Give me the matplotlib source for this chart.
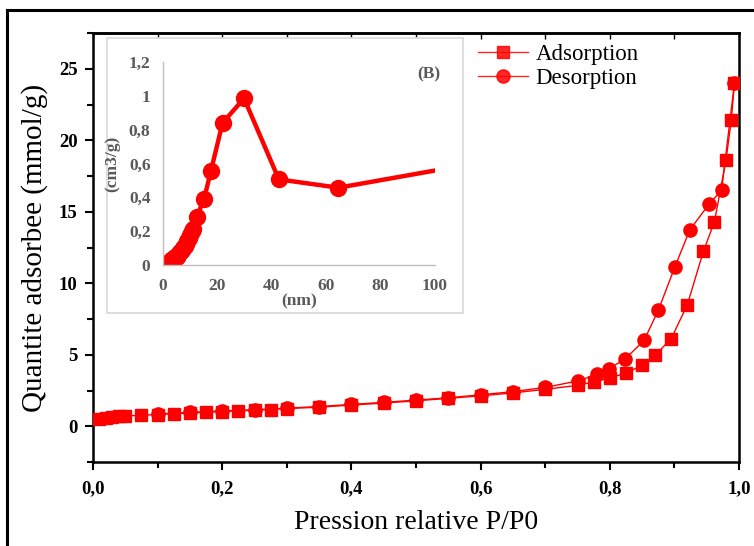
import matplotlib
matplotlib.use("Agg")
import matplotlib.pyplot as plt
from matplotlib.lines import Line2D
from matplotlib.patches import Rectangle
from matplotlib.ticker import MultipleLocator, FuncFormatter

# ---- data ----
ads_x = [0.01, 0.02, 0.03, 0.04, 0.05, 0.075, 0.1, 0.125, 0.15, 0.175, 0.2, 0.225, 0.25, 0.275,
         0.3, 0.35, 0.4, 0.45, 0.5, 0.55, 0.6, 0.65, 0.7, 0.75, 0.775, 0.8, 0.825, 0.85, 0.87,
         0.895, 0.92, 0.945, 0.962, 0.98, 0.988, 0.993]
ads_y = [0.5, 0.6, 0.65, 0.7, 0.72, 0.77, 0.82, 0.88, 0.93, 0.98, 1.03, 1.08, 1.12, 1.17,
         1.24, 1.33, 1.48, 1.62, 1.78, 1.95, 2.13, 2.33, 2.58, 2.86, 3.1, 3.37, 3.72, 4.26, 4.96,
         6.12, 8.5, 12.25, 14.3, 18.65, 21.4, 24.0]
des_x = [0.993, 0.973, 0.954, 0.924, 0.901, 0.875, 0.853, 0.824, 0.799, 0.78, 0.751, 0.7,
         0.65, 0.6, 0.55, 0.5, 0.45, 0.4, 0.35, 0.3, 0.25, 0.2, 0.15, 0.1]
des_y = [24.0, 16.5, 15.55, 13.75, 11.17, 8.1, 6.0, 4.72, 4.03, 3.63, 3.17, 2.72,
         2.42, 2.2, 1.99, 1.83, 1.67, 1.53, 1.38, 1.27, 1.15, 1.07, 0.97, 0.86]

pore_x = [1.3, 1.7, 2, 2.5, 3, 3.5, 4, 4.5, 5, 5.5, 6, 6.5, 7, 7.5, 8, 8.5, 9, 9.5, 10, 10.5, 11.1,
          12.4, 15.1, 17.6, 21.9, 29.8, 42.6, 64.5, 125]
pore_y = [0.0, 0.005, 0.01, 0.02, 0.03, 0.035, 0.04, 0.045, 0.05, 0.06, 0.07, 0.08, 0.09, 0.1, 0.11,
          0.125, 0.14, 0.16, 0.18, 0.2, 0.21, 0.285, 0.39, 0.555, 0.84, 0.985, 0.506, 0.457, 0.63]

xticks_main = [0.0, 0.2, 0.4, 0.6, 0.8, 1.0]
yticks_main = [0, 5, 10, 15, 20, 25]
xticks_in = [0, 20, 40, 60, 80, 100]
yticks_in = [0, 0.2, 0.4, 0.6, 0.8, 1.0, 1.2]

W, H = 754, 546
fig = plt.figure(figsize=(W / 100, H / 100), dpi=100)

def fx(px):
    return px / W

def fy(py):
    return 1 - py / H

serif = "Liberation Serif"
red = "#ff0000"

# outer frame
fig.add_artist(Line2D([fx(7), fx(7)], [fy(10), -0.01], transform=fig.transFigure, color="black", lw=2.2))
fig.add_artist(Line2D([fx(7), 1.01], [fy(10), fy(10)], transform=fig.transFigure, color="black", lw=2.2))

# main axes
ax = fig.add_axes([fx(93), fy(462), fx(739) - fx(93), fy(33) - fy(462)])
la, = ax.plot(ads_x, ads_y, color=red, lw=1, marker="s", ms=8, zorder=3)
ld, = ax.plot(des_x, des_y, color=red, lw=1, marker="o", ms=9.5, zorder=4)
ax.set_xlim(0, 1.0)
ax.set_ylim(-2.5, 27.5)
ax.set_xticks(xticks_main)
ax.set_yticks(yticks_main)
ax.xaxis.set_minor_locator(MultipleLocator(0.1))
ax.yaxis.set_minor_locator(MultipleLocator(2.5))
ax.xaxis.set_major_formatter(FuncFormatter(lambda v, p: f"{v:.1f}".replace(".", ",")))
ax.tick_params(which="major", direction="out", length=6, width=1.5, top=False, right=False)
ax.tick_params(which="minor", direction="out", length=4, width=1.5, top=False, right=False)
for lab in ax.get_xticklabels() + ax.get_yticklabels():
    lab.set_fontfamily(serif)
    lab.set_fontweight("bold")
    lab.set_fontsize(13.5)
ax.tick_params(axis="x", pad=7)
ax.tick_params(axis="y", pad=5)
for s in ax.spines.values():
    s.set_linewidth(1.8)
ax.set_xlabel("Pression relative P/P0", fontfamily=serif, fontsize=20, labelpad=9)
ax.set_ylabel("Quantite adsorbee (mmol/g)", fontfamily=serif, fontsize=21, labelpad=8)

# top ticks inward
axt = ax.secondary_xaxis("top")
axt.set_xticks(xticks_main)
axt.xaxis.set_minor_locator(MultipleLocator(0.1))
axt.tick_params(which="both", direction="in", length=4, width=1, labeltop=False)
axt.spines["top"].set_linewidth(1.8)

# legend (figure level, above inset)
h_a = Line2D([], [], color=red, lw=1, marker="s", ms=8, alpha=0.85)
h_d = Line2D([], [], color=red, lw=1, marker="o", ms=9.5, alpha=0.85)
leg = fig.legend([h_a, h_d], ["Adsorption", "Desorption"], loc="upper left",
                 bbox_to_anchor=(fx(478), fy(44)), bbox_transform=fig.transFigure,
                 frameon=False, prop={"family": serif, "size": 16.5},
                 handlelength=2.2, handletextpad=0.3, labelspacing=0.13, borderpad=0,
                 borderaxespad=0)
leg.set_zorder(8)

# inset background
fig.add_artist(Rectangle((fx(107), fy(313)), fx(463) - fx(107), fy(38) - fy(313),
                         transform=fig.transFigure, facecolor="white", edgecolor="#d9d9d9",
                         lw=1.2, zorder=5))

gray = "#595959"
ai = fig.add_axes([fx(163), fy(265), fx(435) - fx(163), fy(62) - fy(265)], zorder=6)
ai.patch.set_alpha(0)
ai.plot(pore_x, pore_y, color=red, lw=3.2, marker="o", ms=11.5, clip_on=True)
ai.set_xlim(0, 100)
ai.set_ylim(0, 1.2)
ai.set_xticks(xticks_in)
ai.set_yticks(yticks_in)
ai.yaxis.set_major_formatter(FuncFormatter(lambda v, p: ("%g" % round(v, 1)).replace(".", ",")))
ai.spines["top"].set_visible(False)
ai.spines["right"].set_visible(False)
ai.spines["left"].set_color("#bfbfbf")
ai.spines["bottom"].set_color("#bfbfbf")
ai.spines["left"].set_linewidth(1)
ai.spines["bottom"].set_linewidth(1)
ai.tick_params(length=0, pad=9, colors=gray)
for lab in ai.get_xticklabels() + ai.get_yticklabels():
    lab.set_fontfamily(serif)
    lab.set_fontweight("bold")
    lab.set_fontsize(12.5)
ai.set_xlabel("(nm)", fontfamily=serif, fontweight="bold", fontsize=12.5, color=gray, labelpad=0)
ai.set_ylabel("(cm3/g)", fontfamily=serif, fontweight="bold", fontsize=12.5, color=gray, labelpad=6)
ai.text(1.018, 0.94, "(B)", transform=ai.transAxes, fontfamily=serif, fontweight="bold",
        fontsize=12.5, color=gray, ha="right", va="center")

fig.savefig("out.png", dpi=100)
